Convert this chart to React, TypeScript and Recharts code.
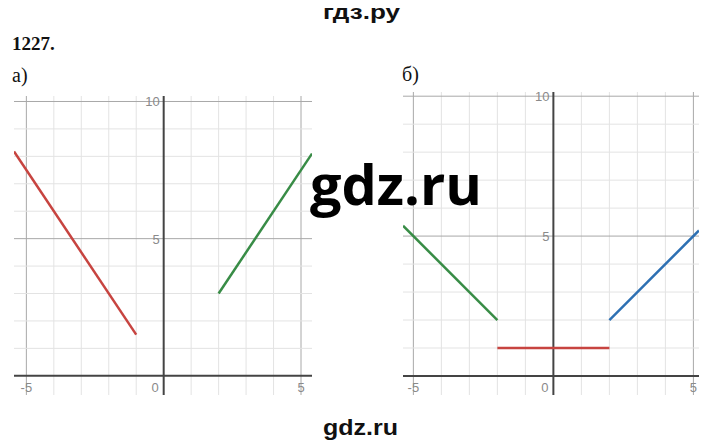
import React from "react"
import { LineChart, Line, XAxis, YAxis, ReferenceLine, ReferenceDot } from "recharts"

// grid positions (integer steps), majors drawn darker
const gridX = [-5, -4, -3, -2, -1, 1, 2, 3, 4, 5]
const gridY = [1, 2, 3, 4, 5, 6, 7, 8, 9, 10]
const majorX = [-5, 5]
const majorY = [5, 10]

// tick labels
const xLabels = [-5, 5]
const yLabels = [5, 10]

// panel а)
const redA = [
  { x: -5.45, y: 8.18 },
  { x: -1, y: 1.5 },
]
const greenA = [
  { x: 2, y: 3 },
  { x: 5.4, y: 8.1 },
]

// panel б)
const greenB = [
  { x: -5.37, y: 5.37 },
  { x: -2, y: 2 },
]
const redB = [
  { x: -2, y: 1 },
  { x: 2, y: 1 },
]
const blueB = [
  { x: 2, y: 2 },
  { x: 5.2, y: 5.2 },
]

const RED = "#c74440"
const GREEN = "#388c46"
const BLUE = "#2d70b3"

type Seg = { data: { x: number; y: number }[]; color: string }

const tickText = { fontFamily: "Liberation Sans, Arial", fontSize: 13, fill: "#8a8a8a" }
const PAD = 12

function Plot({ xDomain, yDomain, width, height, segs }: { xDomain: number[]; yDomain: number[]; width: number; height: number; segs: Seg[] }) {
  return (
    <LineChart width={width + 2 * PAD} height={height + 2 * PAD} margin={{ top: PAD, right: PAD, bottom: PAD, left: PAD }}>
      <XAxis type="number" dataKey="x" domain={xDomain} allowDataOverflow hide />
      <YAxis type="number" dataKey="y" domain={yDomain} allowDataOverflow hide />
      {gridX.map((v) => (
        <ReferenceLine key={"gx" + v} x={v} stroke={majorX.includes(v) ? "#a8a8a8" : "#e3e3e3"} strokeWidth={1} />
      ))}
      {gridY.map((v) => (
        <ReferenceLine key={"gy" + v} y={v} stroke={majorY.includes(v) ? "#a8a8a8" : "#e3e3e3"} strokeWidth={1} />
      ))}
      <ReferenceLine x={0} stroke="#444" strokeWidth={2} />
      <ReferenceLine y={0} stroke="#444" strokeWidth={2} />
      {segs.map((s, i) => (
        <Line
          key={i}
          data={s.data}
          dataKey="y"
          stroke={s.color}
          strokeWidth={2.5}
          dot={false}
          isAnimationActive={false}
        />
      ))}
      {yLabels.map((v) => (
        <ReferenceDot
          key={"yl" + v}
          x={0}
          y={v}
          r={0}
          shape={(p: any) => (
            <text x={p.cx - 4} y={p.cy + 5} textAnchor="end" {...tickText}>
              {v}
            </text>
          )}
        />
      ))}
      {xLabels.map((v) => (
        <ReferenceDot
          key={"xl" + v}
          x={v}
          y={0}
          r={0}
          shape={(p: any) => (
            <text x={p.cx} y={p.cy + 16} textAnchor="middle" {...tickText}>
              {v}
            </text>
          )}
        />
      ))}
      <ReferenceDot
        x={0}
        y={0}
        r={0}
        shape={(p: any) => (
          <text x={p.cx - 5} y={p.cy + 16} textAnchor="end" {...tickText}>
            0
          </text>
        )}
      />
    </LineChart>
  )
}

export default function App() {
  return (
    <div style={{ position: "absolute", left: 0, top: 0, width: 720, height: 447, background: "#fff", overflow: "hidden" }}>
      <div style={{ position: "absolute", left: 14 - PAD, top: 96 - PAD }}>
        <Plot
          xDomain={[-5.45, 5.4]}
          yDomain={[-0.7, 10.2]}
          width={298}
          height={299}
          segs={[
            { data: redA, color: RED },
            { data: greenA, color: GREEN },
          ]}
        />
      </div>
      <div style={{ position: "absolute", left: 403 - PAD, top: 92 - PAD }}>
        <Plot
          xDomain={[-5.37, 5.2]}
          yDomain={[-0.68, 10.15]}
          width={296}
          height={303}
          segs={[
            { data: greenB, color: GREEN },
            { data: redB, color: RED },
            { data: blueB, color: BLUE },
          ]}
        />
      </div>
      <svg width={720} height={447} style={{ position: "absolute", left: 0, top: 0, pointerEvents: "none" }}>
        <text x={323} y={19} fontFamily="Liberation Sans, Arial" fontWeight="bold" fontSize={20} textLength={77} lengthAdjust="spacingAndGlyphs" fill="#111">
          гдз.ру
        </text>
        <text x={12} y={50} fontFamily="Liberation Serif, Times New Roman" fontWeight="bold" fontSize={19} fill="#111">
          1227.
        </text>
        <text x={12} y={82} fontFamily="Liberation Serif, Times New Roman" fontSize={20} fill="#111">
          а)
        </text>
        <text x={402} y={81} fontFamily="Liberation Serif, Times New Roman" fontSize={20} fill="#111">
          б)
        </text>
        <text x={310} y={205} fontFamily="Open Sans" fontWeight="bold" fontSize={56} textLength={172} lengthAdjust="spacingAndGlyphs" fill="#000">
          gdz.ru
        </text>
        <text x={323} y={435} fontFamily="Liberation Sans, Arial" fontWeight="bold" fontSize={22} textLength={75} lengthAdjust="spacingAndGlyphs" fill="#111">
          gdz.ru
        </text>
      </svg>
    </div>
  )
}
